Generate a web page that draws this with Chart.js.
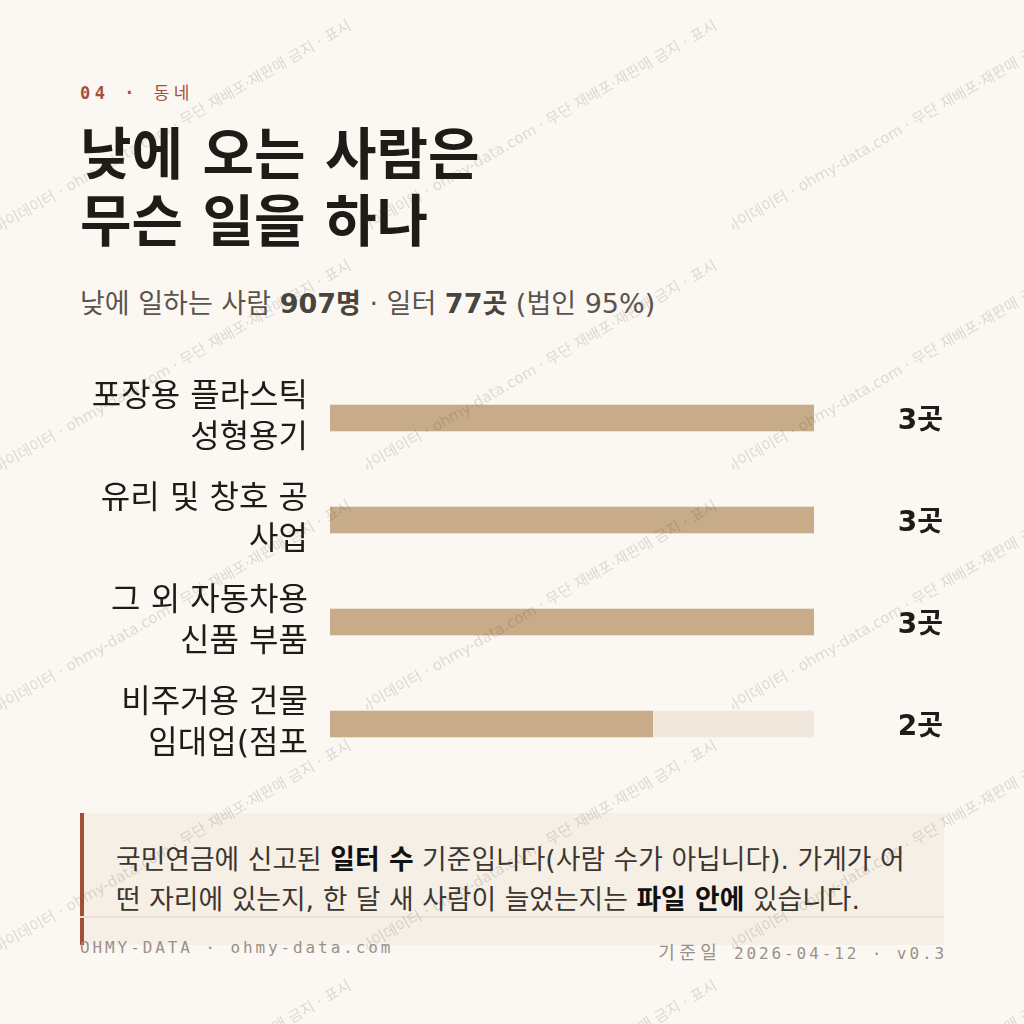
<!DOCTYPE html>
<html lang="ko">
<head>
<meta charset="utf-8">
<script src="https://cdn.jsdelivr.net/npm/chart.js@4.4.1/dist/chart.umd.min.js"></script>
<style>
  html, body { margin: 0; padding: 0; }
  body { width: 1024px; height: 1024px; background: #fbf8f3; position: relative; overflow: hidden;
         font-family: "DejaVu Sans", "Noto Sans CJK JP", sans-serif; color: #1f1b17; }
  .kicker { position: absolute; left: 80px; top: 79px; font: 700 17px "DejaVu Sans Mono", "Noto Sans CJK JP", monospace;
            letter-spacing: 4.5px; color: #a5503a; white-space: nowrap; }
  .kicker .ko { font-weight: 400; }
  h1 { position: absolute; left: 80px; top: 121px; margin: 0; font-size: 56px; line-height: 67px;
       font-weight: 700; color: #1f1b17; white-space: nowrap; }
  .sub { position: absolute; left: 80px; top: 282px; font-size: 27px; color: #5b544d; white-space: nowrap; }
  .sub b { color: #4a443e; }
  #chart { position: absolute; left: 80px; top: 357px; }
  .note { position: absolute; left: 80px; top: 813px; width: 860px; height: 132px; background: #f5efe6;
          border-left: 4px solid #a54e36; }
  .note p { margin: 0; position: absolute; left: 32px; top: 27px; font-size: 26.8px; line-height: 40px;
            color: #3d3630; white-space: nowrap; }
  .note b { color: #111; }
  .foot { position: absolute; left: 80px; top: 916px; width: 864px; border-top: 2px solid #ebe2d6; }
  .foot > span { position: absolute; top: 20px; font: 16px "DejaVu Sans Mono", "Noto Sans CJK JP", monospace;
                 letter-spacing: 2.9px; color: #9a9088; white-space: nowrap; }
  .foot > .l { left: 0; }
  .foot > .r { right: -3px; }
  .foot .ko { font-size: 18px; letter-spacing: 4.5px; }
  #wm { position: absolute; left: 0; top: 0; pointer-events: none; }
</style>
</head>
<body>
<div class="kicker">04 · <span class="ko">동네</span></div>
<h1>낮에 오는 사람은<br>무슨 일을 하나</h1>
<div class="sub">낮에 일하는 사람 <b>907명</b> · 일터 <b>77곳</b> (법인 95%)</div>
<canvas id="chart" width="864" height="428"></canvas>
<div class="note"><p>국민연금에 신고된 <b>일터 수</b> 기준입니다(사람 수가 아닙니다). 가게가 어<br>떤 자리에 있는지, 한 달 새 사람이 늘었는지는 <b>파일 안에</b> 있습니다.</p></div>
<div class="foot"><span class="l">OHMY-DATA · ohmy-data.com</span><span class="r"><span class="ko">기준일</span> 2026-04-12 · v0.3</span></div>
<canvas id="wm" width="1024" height="1024"></canvas>
<script>
// 업종별 일터 수
const categories = [
  ['포장용 플라스틱', '성형용기'],
  ['유리 및 창호 공', '사업'],
  ['그 외 자동차용', '신품 부품'],
  ['비주거용 건물', '임대업(점포']
];
const counts = [3, 3, 3, 2];
const trackMax = 3;
const unit = '곳';

const barColor = '#c8ab89';
const trackColor = '#f0e8dc';
const fontStack = '"DejaVu Sans", "Noto Sans CJK JP", sans-serif';

// value text at right end
const valueLabels = {
  id: 'valueLabels',
  afterDatasetsDraw(chart) {
    const ctx = chart.ctx;
    const meta = chart.getDatasetMeta(1);
    ctx.save();
    ctx.font = '700 28px ' + fontStack;
    ctx.fillStyle = '#1f1b17';
    ctx.textAlign = 'right';
    ctx.textBaseline = 'middle';
    meta.data.forEach((bar, i) => {
      ctx.fillText(counts[i] + unit, chart.width - 1, bar.y + 4);
    });
    ctx.restore();
  }
};

new Chart(document.getElementById('chart'), {
  type: 'bar',
  data: {
    labels: categories,
    datasets: [
      { label: 'track', data: categories.map(() => trackMax), backgroundColor: trackColor,
        barThickness: 26, grouped: false, order: 2 },
      { label: '일터', data: counts, backgroundColor: barColor,
        barThickness: 26, grouped: false, order: 1 }
    ]
  },
  options: {
    indexAxis: 'y',
    responsive: false,
    animation: false,
    layout: { padding: { top: 10, bottom: 10, right: 130, left: 0 } },
    plugins: { legend: { display: false }, tooltip: { enabled: false } },
    scales: {
      x: { display: false, min: 0, max: trackMax },
      y: {
        grid: { display: false, drawTicks: false },
        border: { display: false },
        ticks: {
          padding: 22,
          color: '#1f1b17',
          font: { family: fontStack, size: 32, lineHeight: 1.27 }
        },
        afterFit(scale) {
          scale.width = 250;
          scale.paddingTop = 0;
          scale.paddingBottom = 0;
        }
      }
    }
  },
  plugins: [valueLabels]
});

// watermark tiles
const wm = document.getElementById('wm').getContext('2d');
const wmText = '마이데이터 · ohmy-data.com · 무단 재배포·재판매 금지 · 표시';
const tileW = 366, tileH = 240;
wm.font = '15px "DejaVu Sans", "Noto Sans CJK JP", sans-serif';
wm.fillStyle = 'rgba(70, 60, 50, 0.17)';
for (let ty = 0; ty < 1024; ty += tileH) {
  for (let tx = 0; tx < 1024; tx += tileW) {
    wm.save();
    wm.beginPath();
    wm.rect(tx, ty, tileW, tileH);
    wm.clip();
    wm.translate(tx, ty + tileH - 8);
    wm.rotate(-Math.PI / 6);
    wm.fillText(wmText, -3, 0);
    wm.restore();
  }
}
</script>
</body>
</html>
